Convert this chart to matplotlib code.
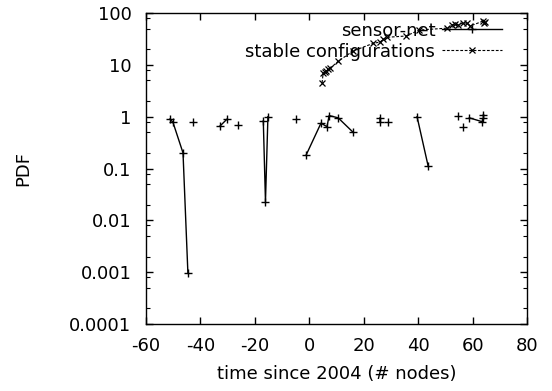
import numpy as np
import matplotlib
matplotlib.use("Agg")
import matplotlib.pyplot as plt
from matplotlib.ticker import FixedLocator, NullFormatter

nan = np.nan

# sensor-net series (NaN separates unconnected runs)
sensor_x = [-51.2, -50.1, -46.4, -44.6, nan,
            -42.7, nan,
            -32.8, -30.2, nan,
            -26.2, nan,
            -16.9, -16.1, -15.2, nan,
            -4.9, nan,
            -1.2, 4.3, 6.5, 7.3, 10.6, 16.1, nan,
            26.0, 26.0, nan,
            29.0, nan,
            39.6, 43.7, nan,
            54.7, nan,
            56.5, nan,
            58.8, 63.5, 64.0, 64.0]
sensor_y = [0.90, 0.78, 0.20, 0.00095, nan,
            0.78, nan,
            0.66, 0.90, nan,
            0.70, nan,
            0.83, 0.023, 1.0, nan,
            0.92, nan,
            0.18, 0.75, 0.64, 1.05, 0.95, 0.50, nan,
            0.95, 0.80, nan,
            0.80, nan,
            1.0, 0.11, nan,
            1.05, nan,
            0.62, nan,
            0.95, 0.80, 0.95, 1.1]

# stable configurations series
stable_x = [4.7, 5.1, 5.8, 6.3, 7.0, 7.6, 10.6, 16.1, 23.5, 26.0, 27.2, 28.6,
            35.6, 40.4, 50.7, 52.5, 53.6, 54.7, 56.5, 58.0, 59.1, 63.9, 64.3, 64.6]
stable_y = [4.5, 6.9, 7.3, 7.6, 8.3, 8.5, 11.7, 18.5, 26, 27.5, 31, 34,
            36, 47, 51, 59, 61, 59, 64, 64, 56, 70, 64, 67]

x_ticks = [-60, -40, -20, 0, 20, 40, 60, 80]
y_ticks = [0.0001, 0.001, 0.01, 0.1, 1, 10, 100]
y_ticklabels = ["0.0001", "0.001", "0.01", "0.1", "1", "10", "100"]

plt.rcParams['font.family'] = ['DejaVu Sans']
plt.rcParams['font.size'] = 13

fig = plt.figure(figsize=(5.52, 3.91), dpi=100)
ax = fig.add_axes([146/552, 1-324/391, (527-146)/552, (324-13)/391])

ax.plot(sensor_x, sensor_y, color='black', lw=1.0, marker='+', ms=6, mew=1.0,
        label='sensor-net')
ax.plot(stable_x, stable_y, color='black', lw=0.8, ls=(0, (2.5, 1.5)), marker='x',
        ms=5, mew=0.9, label='stable configurations')

ax.set_yscale('log')
ax.set_xlim(-60, 80)
ax.set_ylim(0.0001, 100)
ax.set_xticks(x_ticks)
ax.set_xticklabels([str(t) for t in x_ticks])
ax.set_yticks(y_ticks)
ax.set_yticklabels(y_ticklabels)
minor = []
for d in [0.0001, 0.001, 0.01, 0.1, 1, 10]:
    for m in [2, 5, 8]:
        minor.append(d * m)
ax.yaxis.set_minor_locator(FixedLocator(minor))
ax.yaxis.set_minor_formatter(NullFormatter())
ax.tick_params(which='major', direction='in', length=5, width=1, top=True, right=True)
ax.tick_params(axis='x', which='major', pad=9.5)
ax.tick_params(axis='y', which='major', pad=10.5)
ax.tick_params(which='minor', direction='in', length=3, width=0.8, top=False, right=True)
ax.tick_params(axis='x', which='minor', bottom=False, top=False)
for s in ax.spines.values():
    s.set_linewidth(1.0)

ax.set_xlabel('time since 2004 (# nodes)', labelpad=7)
ax.set_ylabel('PDF', labelpad=27)

leg = ax.legend(loc='upper right', bbox_to_anchor=((502-146)/381, 1-(21.5-13)/311),
                frameon=False, markerfirst=False, handlelength=3.3, handletextpad=0.4,
                borderpad=0, borderaxespad=0, labelspacing=0.17, fontsize=13)

fig.savefig('out.png', dpi=100)
